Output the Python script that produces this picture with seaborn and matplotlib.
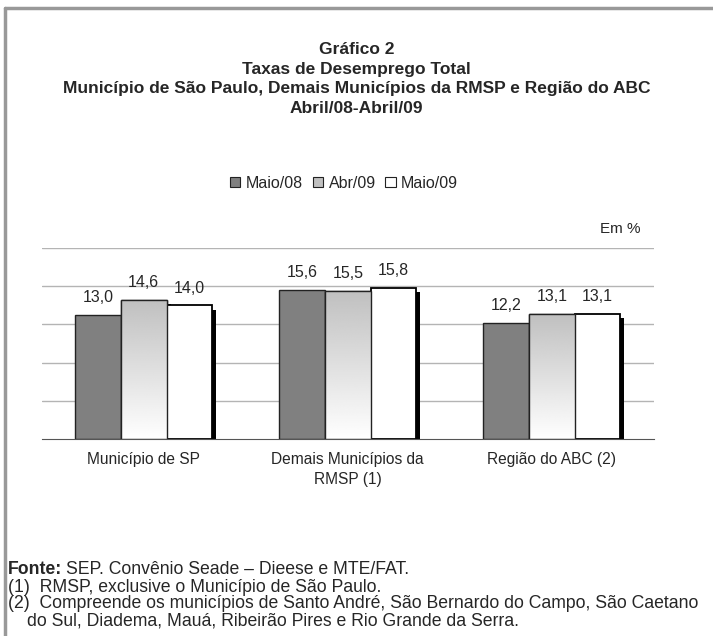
import numpy as np
import pandas as pd
import seaborn as sns
import matplotlib
matplotlib.use('Agg')
from matplotlib import pyplot as plt
from matplotlib import patheffects as pe
from matplotlib.patches import Patch, Rectangle
from matplotlib.lines import Line2D

# data
categories = ['Município de SP', 'Demais Municípios da\nRMSP (1)', 'Região do ABC (2)']
periods = ['Maio/08', 'Abr/09', 'Maio/09']
maio08 = [13.0, 15.6, 12.2]
abr09 = [14.6, 15.5, 13.1]
maio09 = [14.0, 15.8, 13.1]

df = pd.DataFrame({
    'regiao': categories * 3,
    'periodo': [p for p in periods for _ in categories],
    'taxa': maio08 + abr09 + maio09,
})

sns.set_style('white')
plt.rcParams['font.family'] = ['Liberation Sans', 'DejaVu Sans']

fig = plt.figure(figsize=(7.13, 6.36), dpi=100)
ax = fig.add_axes([0.0585, 0.3093, 0.8585, 0.3008])

palette = ['#808080', '#c0c0c0', '#ffffff']
sns.barplot(data=df, x='regiao', y='taxa', hue='periodo', palette=palette,
            width=0.67, gap=0, ax=ax, legend=False, saturation=1,
            edgecolor='#222222', linewidth=1.0, zorder=2)

ax.set_ylim(0, 20)
ax.set_xlim(-0.5, 2.5)
ax.set_yticks([4, 8, 12, 16, 20])
ax.set_yticklabels([])
ax.tick_params(axis='y', length=0)
ax.yaxis.grid(True, color='#b4b4b4', linewidth=1.0)
ax.set_axisbelow(True)
for s in ['left', 'top', 'right']:
    ax.spines[s].set_visible(False)
ax.spines['bottom'].set_color('#555555')
ax.spines['bottom'].set_linewidth(0.8)
ax.set_xlabel('')
ax.set_ylabel('')
ax.set_xticks([0, 1, 2])
ax.set_xticklabels(categories, fontsize=11.2, linespacing=1.45)
ax.tick_params(axis='x', which='major', length=0, pad=9)
ax.set_xticks([-0.5, 0.5, 1.5, 2.5], minor=True)
ax.tick_params(axis='x', which='minor', length=5, color='#555555', width=0.8, direction='out')

# shadows, gradient, value labels
grad = np.linspace(1.0, 0.75, 256).reshape(-1, 1)
bars = ax.patches
shadow = [pe.SimplePatchShadow(offset=(3, -3), shadow_rgbFace='black', alpha=1), pe.Normal()]
for i, bar in enumerate(bars):
    bar.set_path_effects(shadow)
    x0 = bar.get_x()
    w = bar.get_width()
    h = bar.get_height()
    if 3 <= i < 6:
        im = ax.imshow(grad, cmap='gray', vmin=0, vmax=1, origin='lower',
                       extent=[x0, x0 + w, 0, h], aspect='auto', zorder=2.1,
                       interpolation='bilinear')
        im.set_clip_path(bar)
        ax.add_patch(Rectangle((x0, 0), w, h, fill=False, edgecolor='#222222',
                               linewidth=1.0, zorder=2.2))
    if i >= 6:
        bar.set_edgecolor('black')
        bar.set_linewidth(1.3)
    ax.annotate(f'{h:.1f}'.replace('.', ','), (x0 + w / 2, h), xytext=(0, 7),
                textcoords='offset points', ha='center', va='bottom', fontsize=11.5)
ax.set_xlim(-0.5, 2.5)
ax.set_ylim(0, 20)

# titles
titles = ['Gráfico 2', 'Taxas de Desemprego Total',
          'Município de São Paulo, Demais Municípios da RMSP e Região do ABC',
          'Abril/08-Abril/09']
for k, t in enumerate(titles):
    fig.text(0.5, 1 - (50 + 19.5 * k) / 636, t, ha='center', va='center',
             fontsize=12.5, fontweight='bold')

# legend
handles = [Patch(facecolor=c, edgecolor='#222222', linewidth=0.8) for c in palette]
fig.legend(handles, periods, loc='center', bbox_to_anchor=(344 / 713, 1 - 183 / 636),
           ncol=3, frameon=False, fontsize=11.5, handlelength=0.65, handleheight=0.65,
           handletextpad=0.35, columnspacing=0.6)

fig.text(641 / 713, 1 - 229 / 636, 'Em %', ha='right', va='center', fontsize=11)

# footnotes
fs = 12.7
fy = [570, 587, 604, 621]
fonte = fig.text(8 / 713, 1 - fy[0] / 636, 'Fonte:', ha='left', va='center', fontsize=fs,
                 fontweight='bold')
fig.canvas.draw()
bb = fonte.get_window_extent()
fig.text((bb.x1 + 4) / 713, 1 - fy[0] / 636, 'SEP. Convênio Seade – Dieese e MTE/FAT.',
         ha='left', va='center', fontsize=fs)
fig.text(8 / 713, 1 - fy[1] / 636, '(1)  RMSP, exclusive o Município de São Paulo.',
         ha='left', va='center', fontsize=fs)
fig.text(8 / 713, 1 - fy[2] / 636,
         '(2)  Compreende os municípios de Santo André, São Bernardo do Campo, São Caetano',
         ha='left', va='center', fontsize=fs)
fig.text(27 / 713, 1 - fy[3] / 636,
         'do Sul, Diadema, Mauá, Ribeirão Pires e Rio Grande da Serra.',
         ha='left', va='center', fontsize=fs)

# frame (top and left)
fig.add_artist(Line2D([5 / 713, 1], [1 - 8 / 636, 1 - 8 / 636], color='#999999', linewidth=2.5))
fig.add_artist(Line2D([5 / 713, 5 / 713], [0, 1 - 8 / 636], color='#999999', linewidth=2.5))

fig.savefig('out.png', dpi=100)
